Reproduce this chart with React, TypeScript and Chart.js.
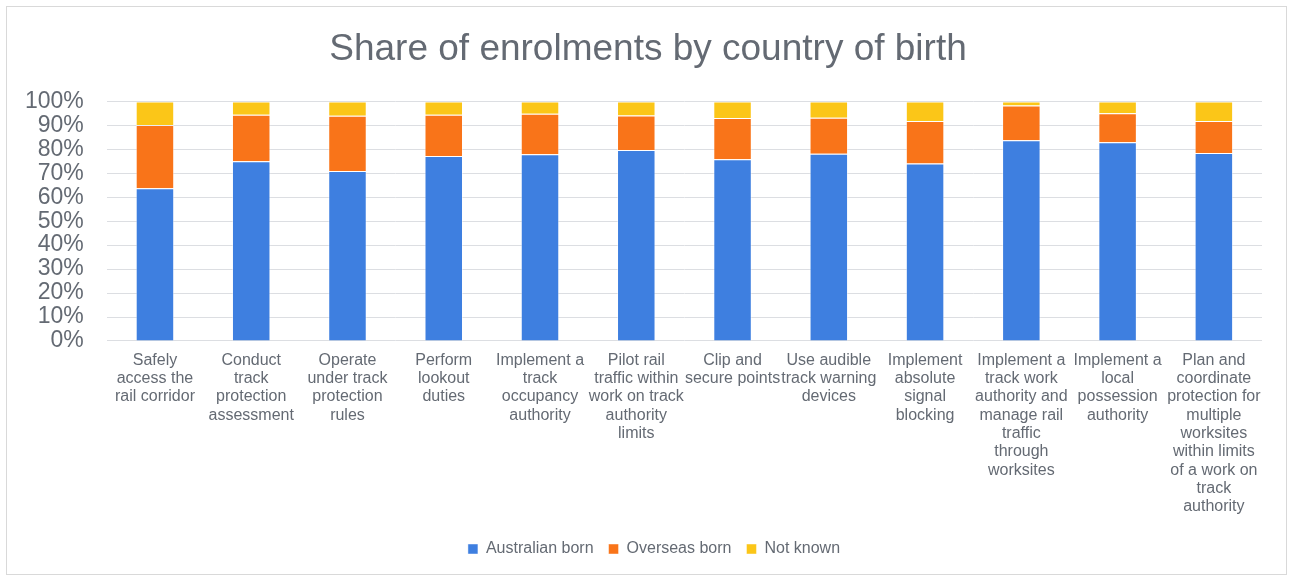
import React, { useEffect, useRef } from "react";
import { Chart, registerables } from "chart.js";

Chart.register(...registerables);

const categories: string[][] = [
  ["Safely", "access the", "rail corridor"],
  ["Conduct", "track", "protection", "assessment"],
  ["Operate", "under track", "protection", "rules"],
  ["Perform", "lookout", "duties"],
  ["Implement a", "track", "occupancy", "authority"],
  ["Pilot rail", "traffic within", "work on track", "authority", "limits"],
  ["Clip and", "secure points"],
  ["Use audible", "track warning", "devices"],
  ["Implement", "absolute", "signal", "blocking"],
  ["Implement a", "track work", "authority and", "manage rail", "traffic", "through", "worksites"],
  ["Implement a", "local", "possession", "authority"],
  ["Plan and", "coordinate", "protection for", "multiple", "worksites", "within limits", "of a work on", "track", "authority"],
];

const australianBorn = [63.7, 75.0, 70.9, 77.2, 77.9, 79.7, 75.9, 78.1, 74.1, 83.8, 83.0, 78.5];
const overseasBorn = [26.5, 19.4, 23.1, 17.2, 16.9, 14.4, 17.2, 15.1, 17.7, 14.5, 12.1, 13.3];
const notKnown = [9.8, 5.6, 6.0, 5.6, 5.2, 5.9, 6.9, 6.8, 8.2, 1.7, 4.9, 8.2];

const TEXT = "#646a73";
const FONT = "'Liberation Sans', Arial, sans-serif";

// Centre the title and legend on the whole frame rather than on the padded box.
const centreShift = {
  id: "centreShift",
  afterLayout(chart: any) {
    const t = chart.titleBlock;
    if (t) {
      t.left += 16;
      t.right += 16;
    }
    const l = chart.legend;
    if (l) {
      l.left += 22;
      l.right += 22;
    }
  },
};

export default function App() {
  const ref = useRef<HTMLCanvasElement | null>(null);

  useEffect(() => {
    document.body.style.margin = "0";
    if (!ref.current) return;
    const chart = new Chart(ref.current, {
      type: "bar",
      data: {
        labels: categories,
        datasets: [
          { label: "Australian born", data: australianBorn, backgroundColor: "#3e7fe0", borderColor: "rgba(255,255,255,0.45)", borderWidth: 1 },
          { label: "Overseas born", data: overseasBorn, backgroundColor: "#f97419", borderColor: "rgba(255,255,255,0.45)", borderWidth: 1 },
          { label: "Not known", data: notKnown, backgroundColor: "#fbc618", borderColor: "rgba(255,255,255,0.45)", borderWidth: 1 },
        ],
      },
      plugins: [centreShift],
      options: {
        animation: false,
        responsive: false,
        maintainAspectRatio: false,
        layout: { padding: { left: 2, right: 30, top: 12, bottom: 12 } },
        datasets: { bar: { categoryPercentage: 0.8, barPercentage: 0.5 } },
        plugins: {
          title: {
            display: true,
            text: "Share of enrolments by country of birth",
            color: TEXT,
            font: { family: FONT, size: 37, weight: "normal", lineHeight: 1.2 },
            padding: { top: 16, bottom: 29 },
          },
          legend: {
            position: "bottom",
            labels: {
              color: TEXT,
              font: { family: FONT, size: 16 },
              boxWidth: 10,
              boxHeight: 10,
              padding: 15,
            },
          },
          tooltip: { enabled: false },
        },
        scales: {
          x: {
            stacked: true,
            grid: { display: false },
            border: { display: false },
            afterFit: (s: any) => {
              s.height += 8;
            },
            ticks: {
              color: TEXT,
              font: { family: FONT, size: 16, lineHeight: 1.146 },
              maxRotation: 0,
              minRotation: 0,
              autoSkip: false,
              padding: 2,
            },
          },
          y: {
            stacked: true,
            min: 0,
            max: 100,
            grid: { color: "#dcdee2", drawTicks: false },
            border: { display: false },
            ticks: {
              stepSize: 10,
              autoSkip: false,
              color: TEXT,
              font: { family: FONT, size: 23, lineHeight: 1.0 },
              padding: 23,
              callback: (v: any) => v + "%",
            },
          },
        },
      },
    });
    return () => chart.destroy();
  }, []);

  return (
    <div style={{ position: "relative", width: 1292, height: 579, background: "#fff" }}>
      <div
        style={{
          position: "absolute",
          left: 6,
          top: 6,
          width: 1281,
          height: 569,
          border: "1px solid #d9d9d9",
          boxSizing: "border-box",
        }}
      />
      <canvas ref={ref} width={1292} height={579} style={{ position: "absolute", left: 0, top: 0 }} />
    </div>
  );
}
